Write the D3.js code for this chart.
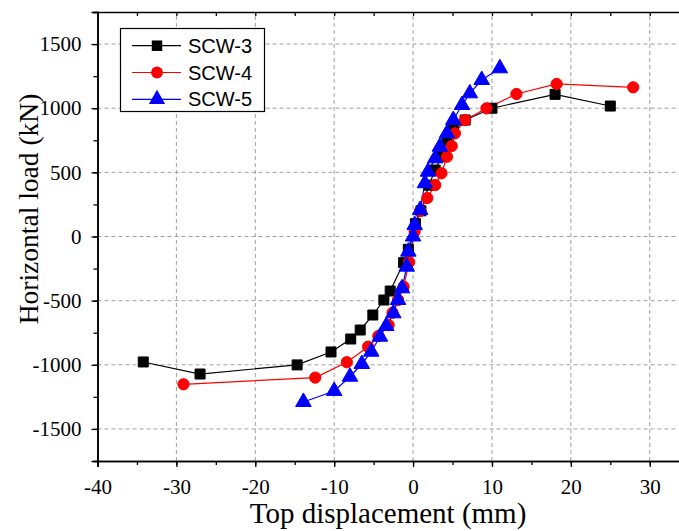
<!DOCTYPE html>
<html><head><meta charset="utf-8">
<script src="https://cdn.jsdelivr.net/npm/d3@7"></script>
<style>body{margin:0;background:#fff}svg{display:block}
.serif{font-family:"Liberation Serif","Times New Roman",Times,serif !important}</style>
</head><body>
<svg id="chart" width="679" height="531"></svg>
<script>
const seriesNames = ["SCW-3", "SCW-4", "SCW-5"];
const seriesColors = ["#000000", "#ff0000", "#0000ff"];
const scw3 = [[-34.2,-978],[-27.0,-1072],[-14.7,-1001],[-10.4,-900],[-7.9,-799],[-6.7,-729],[-5.1,-612],[-3.7,-495],[-2.9,-425],[-1.2,-204],[-0.6,-100],[0.3,100],[1.0,200],[2.0,400],[2.8,518],[3.6,622],[4.3,752],[5.1,830],[6.6,908],[10.0,1000],[18.0,1108],[25.0,1017]];
const scw4 = [[-29.1,-1152],[-12.4,-1100],[-8.4,-980],[-5.7,-859],[-4.4,-776],[-3.1,-690],[-2.6,-594],[-1.9,-495],[-1.2,-391],[-0.5,-200],[0.2,40],[0.9,200],[1.8,300],[2.8,401],[3.6,493],[4.3,622],[4.9,705],[5.3,804],[6.6,908],[9.3,999],[13.1,1111],[18.2,1189],[27.9,1163]];
const scw5 = [[-13.9,-1290],[-10.0,-1204],[-8.0,-1093],[-6.5,-994],[-5.3,-898],[-4.2,-781],[-3.4,-698],[-2.5,-599],[-1.9,-495],[-1.4,-404],[-0.8,-235],[-0.6,-118],[0.0,0],[0.2,90],[0.9,207],[1.5,415],[1.9,505],[2.8,609],[3.4,700],[4.3,804],[5.1,908],[6.2,1025],[7.2,1116],[8.7,1220],[11.0,1311]];
const xTicks = [-40,-30,-20,-10,0,10,20,30];
const yTicks = [-1500,-1000,-500,0,500,1000,1500];
const xTitle = "Top displacement (mm)";
const yTitle = "Horizontal load (kN)";

const allSeries = [scw3, scw4, scw5];
const svg = d3.select("#chart");
const x = d3.scaleLinear().domain([-40, 35]).range([97.5, 689.2]);
const y = d3.scaleLinear().domain([-1750, 1750]).range([461, 12]);
const x0 = x.range()[0], x1 = x.range()[1], y0 = y.range()[0], y1 = y.range()[1];

// grid
const grid = svg.append("g").attr("stroke", "#a0a0a0").attr("stroke-width", 1).attr("stroke-dasharray", "4,3");
xTicks.filter(t => t > -40).forEach(t => grid.append("line").attr("x1", x(t)).attr("x2", x(t)).attr("y1", y0).attr("y2", y1));
yTicks.forEach(t => grid.append("line").attr("x1", x0).attr("x2", x1).attr("y1", y(t)).attr("y2", y(t)));

// axes
const xMinor = d3.range(-40, 36, 5);
const yMinor = d3.range(-1750, 1751, 250);
const bottomAx = svg.append("g").attr("transform", `translate(0,${y0})`)
  .call(d3.axisBottom(x).tickValues(xMinor).tickSize(4).tickFormat(""));
bottomAx.append("g").call(d3.axisBottom(x).tickValues(xTicks).tickSize(6).tickPadding(12).tickFormat(d => d));
const leftAx = svg.append("g").attr("transform", `translate(${x0},0)`)
  .call(d3.axisLeft(y).tickValues(yMinor).tickSize(4).tickFormat(""));
leftAx.append("g").call(d3.axisLeft(y).tickValues(yTicks).tickSize(6).tickPadding(10).tickFormat(d => d));
const topAx = svg.append("g").attr("transform", `translate(0,${y1})`)
  .call(d3.axisTop(x).tickValues(xMinor).tickSize(-4).tickFormat(""));
svg.selectAll(".domain").attr("stroke", "#000").attr("stroke-width", 1.6);
svg.selectAll(".tick line").attr("stroke", "#000").attr("stroke-width", 1.3);
svg.selectAll(".tick text").attr("class", "serif").style("font-size", "21px").attr("fill", "#000");

// titles
svg.append("text").attr("class", "serif").attr("x", 388).attr("y", 523).attr("text-anchor", "middle")
  .style("font-size", "29px").text(xTitle);
svg.append("text").attr("class", "serif").attr("transform", "translate(38,209) rotate(-90)").attr("text-anchor", "middle")
  .style("font-size", "27.5px").text(yTitle);

// series
const symbols = [d3.symbolSquare, d3.symbolCircle, d3.symbolTriangle];
const symSizes = [100, 100, 105];
const line = d3.line().x(d => x(d[0])).y(d => y(d[1]));
const plot = svg.append("g");
allSeries.forEach((s, i) => {
  plot.append("path").attr("d", line(s)).attr("fill", "none").attr("stroke", seriesColors[i]).attr("stroke-width", 1.2);
});
allSeries.forEach((s, i) => {
  plot.selectAll(null).data(s).enter().append("path")
    .attr("d", d3.symbol().type(symbols[i]).size(symSizes[i]))
    .attr("transform", d => `translate(${x(d[0])},${y(d[1])})`)
    .attr("fill", seriesColors[i]).attr("stroke", seriesColors[i]).attr("stroke-width", 1);
});

// legend
const lg = svg.append("g");
lg.append("rect").attr("x", 120.5).attr("y", 28.5).attr("width", 144).attr("height", 83)
  .attr("fill", "#fff").attr("stroke", "#000").attr("stroke-width", 1.2);
seriesNames.forEach((n, i) => {
  const cy = 45.7 + i * 26.8;
  lg.append("line").attr("x1", 132).attr("x2", 181).attr("y1", cy).attr("y2", cy).attr("stroke", seriesColors[i]).attr("stroke-width", 1.2);
  lg.append("path").attr("d", d3.symbol().type(symbols[i]).size(symSizes[i] * 1.1))
    .attr("transform", `translate(157,${cy})`).attr("fill", seriesColors[i]);
  lg.append("text").attr("x", 188).attr("y", cy + 7).attr("font-family", "'Liberation Sans',Arial,sans-serif")
    .attr("font-size", 20).text(n);
});
</script>
</body></html>
